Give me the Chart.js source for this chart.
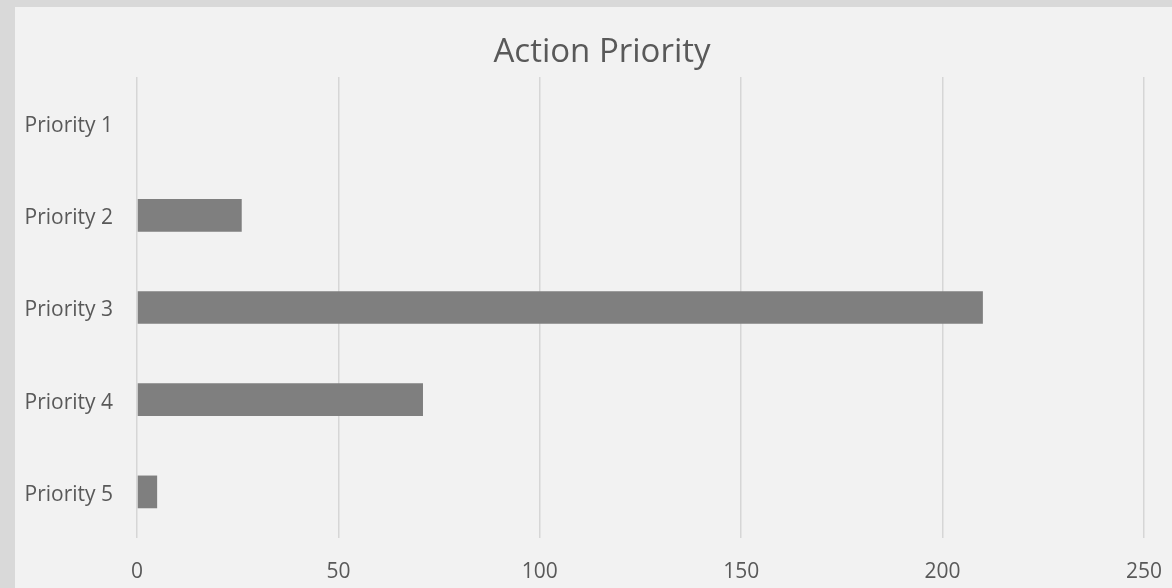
<!DOCTYPE html>
<html>
<head>
<meta charset="utf-8">
<title>Action Priority</title>
<script src="https://cdn.jsdelivr.net/npm/chart.js@4/dist/chart.umd.min.js"></script>
<style>
  html, body { margin: 0; padding: 0; background: #d9d9d9; width: 1172px; height: 588px; overflow: hidden; }
  #frame { position: absolute; left: 15px; top: 7px; width: 1157px; height: 581px; background: #f2f2f2; }
  canvas { display: block; }
</style>
</head>
<body>
<div id="frame"><canvas id="chart" width="1157" height="581"></canvas></div>
<script>
// Categories and counts for the horizontal bar chart
const categories = ['Priority 1', 'Priority 2', 'Priority 3', 'Priority 4', 'Priority 5'];
const actionCounts = [0, 26, 210, 71, 5];
const axisMin = 0;
const axisMax = 250;
const axisStep = 50;

const textColor = '#595959';
const fontFamily = '"Open Sans", "Noto Sans", sans-serif';

// Centre the title a little right of the canvas middle
const titleShift = {
  id: 'titleShift',
  beforeDraw(chart) {
    const t = chart.titleBlock;
    if (t) { t.left = 17; t.right = chart.width; }
  }
};

new Chart(document.getElementById('chart'), {
  type: 'bar',
  data: {
    labels: categories,
    datasets: [{
      label: 'Actions',
      data: actionCounts,
      backgroundColor: '#7f7f7f',
      borderWidth: 0,
      categoryPercentage: 1,
      barPercentage: 0.355
    }]
  },
  plugins: [titleShift],
  options: {
    indexAxis: 'y',
    responsive: false,
    animation: false,
    layout: { padding: { left: 10, right: 28, top: 0, bottom: 6 } },
    plugins: {
      legend: { display: false },
      tooltip: { enabled: false },
      title: {
        display: true,
        text: 'Action Priority',
        color: textColor,
        font: { family: fontFamily, size: 33, weight: 'normal' },
        padding: { top: 26, bottom: 4.4 }
      }
    },
    scales: {
      x: {
        min: axisMin,
        max: axisMax,
        ticks: {
          stepSize: axisStep,
          color: textColor,
          font: { family: fontFamily, size: 21 },
          padding: 21.4
        },
        grid: { color: '#d6d6d6', lineWidth: 1.5, drawTicks: false },
        border: { display: false },
        afterFit(scale) {
          scale.height = 44;
          scale.paddingLeft = 0;
          scale.paddingRight = 0;
        }
      },
      y: {
        ticks: {
          color: textColor,
          font: { family: fontFamily, size: 21 },
          padding: 24,
          labelOffset: 3
        },
        grid: { display: false, drawTicks: false },
        border: { display: false },
        afterFit(scale) {
          scale.width = 112;
          scale.paddingTop = 0;
          scale.paddingBottom = 0;
        }
      }
    }
  }
});
</script>
</body>
</html>
